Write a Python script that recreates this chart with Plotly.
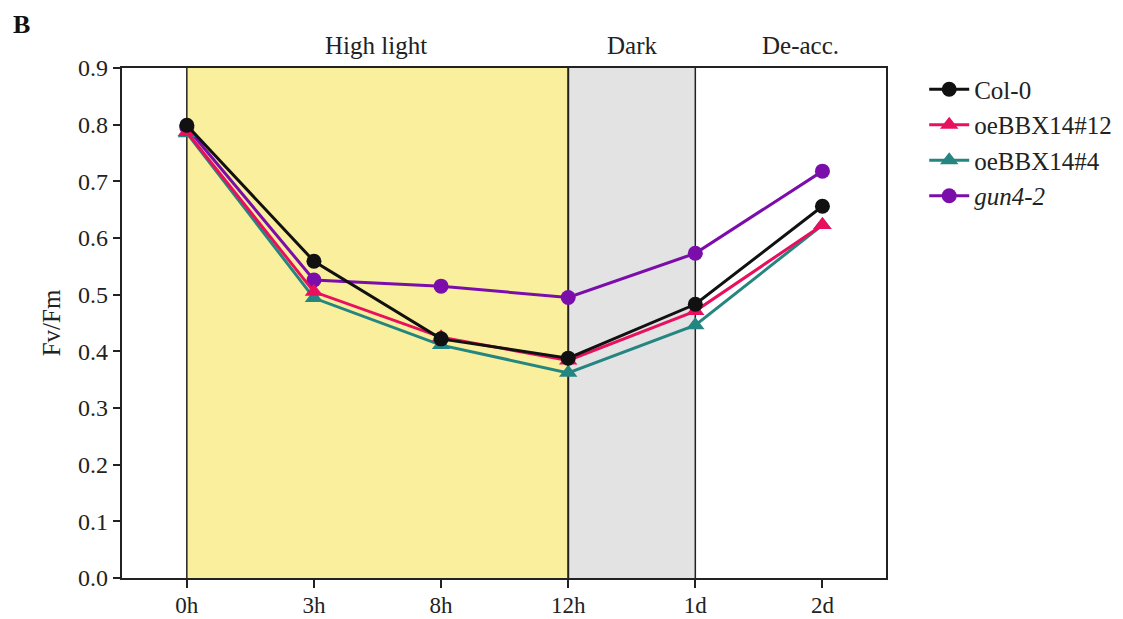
import plotly.graph_objects as go

categories = ["0h", "3h", "8h", "12h", "1d", "2d"]
col0 = [0.799, 0.559, 0.422, 0.388, 0.483, 0.656]
oe12 = [0.787, 0.505, 0.425, 0.384, 0.471, 0.623]
oe4 = [0.785, 0.494, 0.411, 0.362, 0.446, 0.623]
gun4 = [0.795, 0.526, 0.515, 0.495, 0.573, 0.718]
yticks = [0.0, 0.1, 0.2, 0.3, 0.4, 0.5, 0.6, 0.7, 0.8, 0.9]
regions = [("High light", 1.49), ("Dark", 3.5), ("De-acc.", 4.83)]

xs = list(range(len(categories)))
FONT = "Liberation Serif"

fig = go.Figure()

series = [
    ("<i>gun4-2</i>", gun4, "#7b0eab", "circle", 4),
    ("oeBBX14#4", oe4, "#258580", "triangle-up", 3),
    ("oeBBX14#12", oe12, "#e8105e", "triangle-up", 2),
    ("Col-0", col0, "#111111", "circle", 1),
]
for name, ys, color, sym, rank in series:
    fig.add_trace(go.Scatter(
        x=xs, y=ys, name=name, mode="lines+markers",
        line=dict(color=color, width=3),
        marker=dict(color=color, symbol=sym, size=15 if sym == "circle" else 16),
        legendrank=rank,
    ))

# background regions
fig.add_shape(type="rect", xref="x", yref="y", x0=0, x1=3, y0=0, y1=0.9,
              fillcolor="#f9ef9c", line=dict(width=0), layer="below")
fig.add_shape(type="rect", xref="x", yref="y", x0=3, x1=4, y0=0, y1=0.9,
              fillcolor="#e3e3e3", line=dict(width=0), layer="below")
for xv, w in [(0, 1.5), (3, 2), (4, 1.5)]:
    fig.add_shape(type="line", xref="x", yref="y", x0=xv, x1=xv, y0=0, y1=0.9,
                  line=dict(color="#222222", width=w), layer="below")

for txt, xc in regions:
    fig.add_annotation(x=xc, y=1.0, xref="x", yref="paper", yanchor="bottom",
                       yshift=7, text=txt, showarrow=False,
                       font=dict(family=FONT, size=25, color="#222222"))

fig.add_annotation(xref="paper", yref="paper", x=-0.145, y=1.085,
                   xanchor="left", yanchor="middle", text="<b>B</b>",
                   showarrow=False, font=dict(family=FONT, size=26, color="#111111"))

fig.update_layout(
    width=1123, height=619,
    margin=dict(l=122, r=237, t=68, b=41, autoexpand=False),
    paper_bgcolor="white", plot_bgcolor="white",
    font=dict(family=FONT, size=24, color="#222222"),
    showlegend=True,
    legend=dict(x=1.05, y=1.003, xanchor="left", yanchor="top",
                font=dict(family=FONT, size=25, color="#222222"),
                itemwidth=40, tracegroupgap=0, bgcolor="rgba(0,0,0,0)"),
    xaxis=dict(range=[-0.51, 5.5], tickvals=xs, ticktext=categories,
               showgrid=False, zeroline=False, showline=True, mirror=True,
               linecolor="#222222", linewidth=2.2, ticks="outside", ticklen=8,
               tickwidth=2, tickcolor="#222222", tickfont=dict(size=23),
               ticklabelstandoff=-3, automargin=False),
    yaxis=dict(range=[0, 0.9], tickvals=yticks,
               ticktext=[f"{v:.1f}" for v in yticks],
               showgrid=False, zeroline=False, showline=True, mirror=True,
               linecolor="#222222", linewidth=2.2, ticks="outside", ticklen=7,
               tickwidth=2, tickcolor="#222222", tickfont=dict(size=24),
               title=dict(text="Fv/Fm", font=dict(size=25), standoff=10),
               automargin=False),
)

fig.write_html("out.html")
